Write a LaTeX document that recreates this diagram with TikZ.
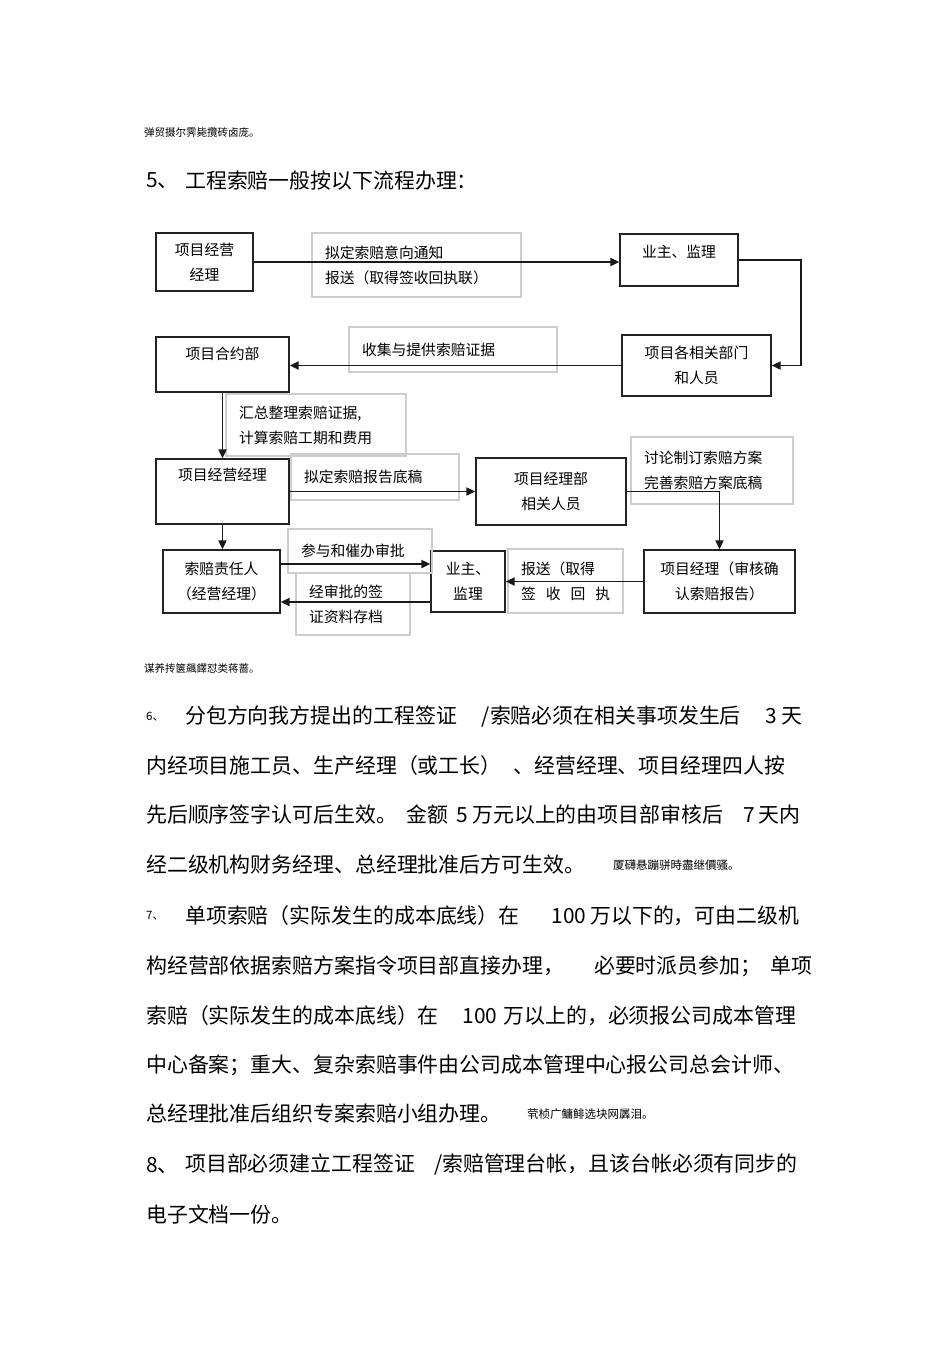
\documentclass[tikz,border=0pt]{standalone}
\usepackage{fontspec}
\setmainfont{Noto Sans CJK SC}
\usepackage{tikz}
\usetikzlibrary{arrows.meta}
\usepackage{xcolor}
\definecolor{boxline}{RGB}{35, 35, 35}
\definecolor{notegray}{RGB}{205, 205, 205}
\newcommand{\bodytext}{\fontsize{20.9pt}{25pt}\selectfont}
\newcommand{\tinytext}{\fontsize{10.5pt}{13pt}\selectfont}
\newcommand{\tailtext}{\fontsize{11.5pt}{14pt}\selectfont}
\newcommand{\boxtext}{\fontsize{14.8pt}{25pt}\selectfont}

\begin{document}
\begin{tikzpicture}[
  x=1pt, y=-1pt,
  flowbox/.style={rectangle, draw=boxline, line width=1.3pt, inner sep=0pt,
               align=center, font=\boxtext},
  notebox/.style={rectangle, draw=notegray, line width=1.4pt, inner ysep=0pt,
               inner xsep=13pt, align=left, font=\boxtext},
  bodyline/.style={anchor=west, inner sep=0pt, font=\bodytext},
  tinyline/.style={anchor=west, inner sep=0pt, font=\tinytext},
  arr/.style={-{Triangle[length=9pt, width=8pt]}, line width=1.9pt, color=black!90}
]
  \useasboundingbox (0,0) rectangle (950,1345);

  % text above the chart
  \node[tinyline] (topnote) at (144,133) {弹贸摄尔霁毙攬砖卤庞。};
  \node[bodyline] (headno) at (146,181) {5、};
  \node[bodyline] (head) at (185,181) {工程索赔一般按以下流程办理：};

  % chart boxes
  \node[flowbox, minimum width=97pt, minimum height=58pt] (opmgr) at (204.5,262) {项目经营\\经理};
  \node[notebox, text width=183pt, minimum height=64pt] (noticenote) at (416.5,265) {拟定索赔意向通知\\报送（取得签收回执联）};
  \node[flowbox, minimum width=118pt, minimum height=52pt, text depth=17.8pt] (owner) at (679,260) {业主、监理};
  \node[flowbox, minimum width=149pt, minimum height=61pt] (depts) at (696.5,365.5) {项目各相关部门\\和人员};
  \node[notebox, text width=182pt, minimum height=45pt] (evidnote) at (453,349.5) {收集与提供索赔证据};
  \node[flowbox, minimum width=133pt, minimum height=55pt, text depth=21.8pt] (contract) at (222.5,364.5) {项目合约部};
  \node[notebox, text width=154pt, minimum height=62pt] (sumnote) at (316,425) {汇总整理索赔证据,\\计算索赔工期和费用};
  \node[flowbox, minimum width=133pt, minimum height=65pt, text depth=33.8pt] (opmgrb) at (222.5,491.5) {项目经营经理};
  \node[notebox, text width=142pt, minimum height=46pt] (draftnote) at (375,477) {拟定索赔报告底稿};
  \node[flowbox, minimum width=150pt, minimum height=67pt] (pmdept) at (551,491.5) {项目经理部\\相关人员};
  \node[notebox, text width=136pt, minimum height=67pt] (plannote) at (712,470.5) {讨论制订索赔方案\\完善索赔方案底稿};
  \node[flowbox, minimum width=151pt, minimum height=63pt] (pmcheck) at (719.5,581.5) {项目经理（审核确\\认索赔报告）};
  \node[notebox, text width=89pt, minimum height=64pt] (sendnote) at (565.5,581) {报送（取得\\\mbox{签\hspace{10pt}收\hspace{10pt}回\hspace{10pt}执}};
  \node[flowbox, minimum width=74pt, minimum height=61pt] (ownerb) at (468,581.5) {业主、\\监理};
  \node[flowbox, minimum width=117pt, minimum height=63pt] (claimant) at (221.5,581.5) {索赔责任人\\（经营经理）};
  \node[notebox, text width=118pt, minimum height=44pt] (urgenote) at (360,551) {参与和催办审批};
  \node[notebox, text width=88pt, minimum height=62pt] (archnote) at (353,604) {经审批的签\\证资料存档};

  % connectors
  \draw[arr] (opmgr.east) -- (opmgr.east -| owner.west);
  \draw[arr] (owner.east) -- ++(62,0) |- (depts.east);
  \draw[arr] (depts.west) -- (depts.west -| contract.east);
  \draw[arr] (contract.south) -- (opmgrb.north);
  \draw[arr] (opmgrb.east) -- (opmgrb.east -| pmdept.west);
  \draw[arr] (pmdept.east) -| (pmcheck.north);
  \draw[arr] (pmcheck.west) -- (pmcheck.west -| ownerb.east);
  \draw[arr] (opmgrb.south) -- (opmgrb.south |- claimant.north);
  \coordinate (urgeout) at ([yshift=17.5pt]claimant.east);
  \draw[arr] (urgeout) -- (urgeout -| ownerb.west);
  \coordinate (archin) at ([yshift=-20.5pt]ownerb.west);
  \draw[arr] (archin) -- (archin -| claimant.east);

  % text below the chart
  \node[tinyline] (midnote) at (144,668) {谋养抟箧飆鐸怼类蒋蔷。};

  \node[tinyline, font=\tailtext] (no6) at (146,717) {6、};
  \node[bodyline] (p6a) at (185,717) {分包方向我方提出的工程签证\hspace{25pt}/索赔必须在相关事项发生后\hspace{25pt}3\hspace{4pt}天};
  \node[bodyline] (p6b) at (146,766) {内经项目施工员、生产经理（或工长）\hspace{12pt}、经营经理、项目经理四人按};
  \node[bodyline] (p6c) at (146,815) {先后顺序签字认可后生效。\hspace{10pt}金额\hspace{8pt}5\hspace{4pt}万元以上的由项目部审核后\hspace{20pt}7\hspace{4pt}天内};
  \node[bodyline] (p6d) at (146,865) {经二级机构财务经理、总经理批准后方可生效。};
  \node[tinyline, font=\tailtext] (tail6) at (613,865) {厦礴悬蹦骈時盡继價骚。};

  \node[tinyline, font=\tailtext] (no7) at (146,916) {7、};
  \node[bodyline] (p7a) at (185,916) {单项索赔（实际发生的成本底线）在\hspace{32pt}100\hspace{4pt}万以下的，可由二级机};
  \node[bodyline] (p7b) at (146,966) {构经营部依据索赔方案指令项目部直接办理，\hspace{30pt}必要时派员参加；\hspace{9pt}单项};
  \node[bodyline] (p7c) at (146,1016) {索赔（实际发生的成本底线）在\hspace{24pt}100\hspace{6pt}万以上的，必须报公司成本管理};
  \node[bodyline] (p7d) at (146,1065) {中心备案；重大、复杂索赔事件由公司成本管理中心报公司总会计师、};
  \node[bodyline] (p7e) at (146,1114) {总经理批准后组织专案索赔小组办理。};
  \node[tinyline, font=\tailtext] (tail7) at (527,1114) {茕桢广鳙鲱选块网羼泪。};

  \node[bodyline] (no8) at (146,1165) {8、};
  \node[bodyline] (p8a) at (185,1165) {项目部必须建立工程签证\hspace{19pt}/索赔管理台帐，且该台帐必须有同步的};
  \node[bodyline] (p8b) at (146,1214) {电子文档一份。};
\end{tikzpicture}
\end{document}
